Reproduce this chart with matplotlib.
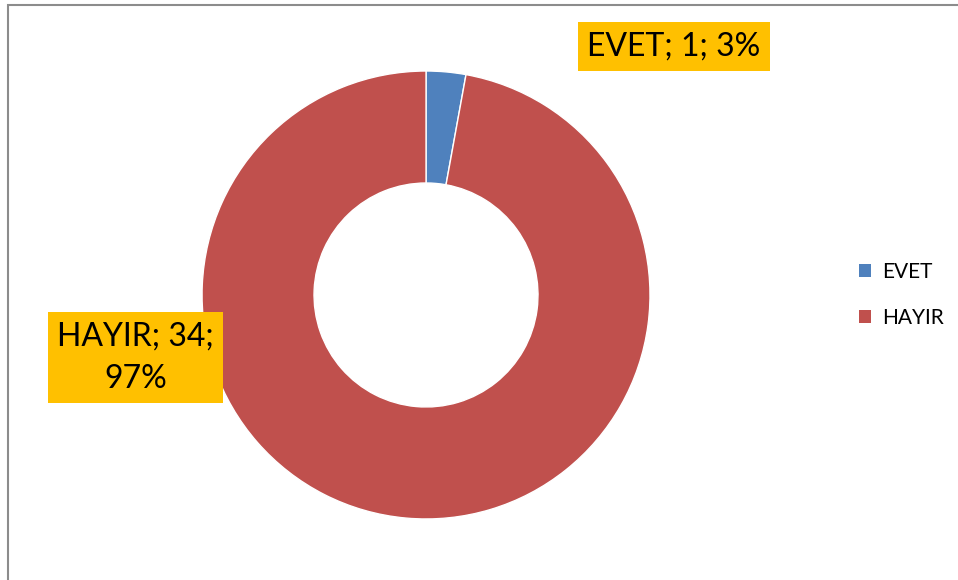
import matplotlib
matplotlib.use("Agg")
import matplotlib.pyplot as plt
from matplotlib.patches import Patch, Rectangle

plt.rcParams['font.family'] = ['Lato', 'DejaVu Sans']

labels = ['EVET', 'HAYIR']
values = [1, 34]
colors = ['#4F81BD', '#C0504D']

fig = plt.figure(figsize=(9.58, 5.8), dpi=100)

# chart frame (only left and top edges visible in the reference)
fig.patches.append(Rectangle((8 / 958, -0.1), 1.2, (580 - 5) / 580 + 0.1,
                             transform=fig.transFigure, fill=False,
                             edgecolor='#8c8c8c', linewidth=1.5))

ax = fig.add_axes([0.2109, 0.1052, 0.4676, 0.7724])
wedges, _ = ax.pie(values, colors=colors, startangle=90, counterclock=False,
                   radius=1, wedgeprops=dict(width=0.5, edgecolor='white', linewidth=1))
ax.set_xlim(-1, 1)
ax.set_ylim(-1, 1)
ax.set_aspect('equal')
ax.axis('off')

total = sum(values)
pcts = [round(v / total * 100) for v in values]

# data labels
box = dict(boxstyle='square,pad=0.3', facecolor='#FFC000', edgecolor='none')
fig.text(674 / 958, 1 - 46.5 / 580, f"{labels[0]}; {values[0]}; {pcts[0]}%",
         ha='center', va='center', fontsize=23, bbox=box)
fig.text(135.5 / 958, 1 - 357.5 / 580, f"{labels[1]}; {values[1]};\n{pcts[1]}%",
         ha='center', va='center', fontsize=23, bbox=box, linespacing=1.5,
         multialignment='center')

handles = [Patch(facecolor=c, edgecolor='none') for c in colors]
fig.legend(handles, labels, loc='center left', bbox_to_anchor=(840 / 958, 1 - 295 / 580),
           frameon=False, fontsize=15, handlelength=0.6, handleheight=0.6,
           handletextpad=0.5, labelspacing=1.25)

fig.savefig('out.png', dpi=100, facecolor='white')
